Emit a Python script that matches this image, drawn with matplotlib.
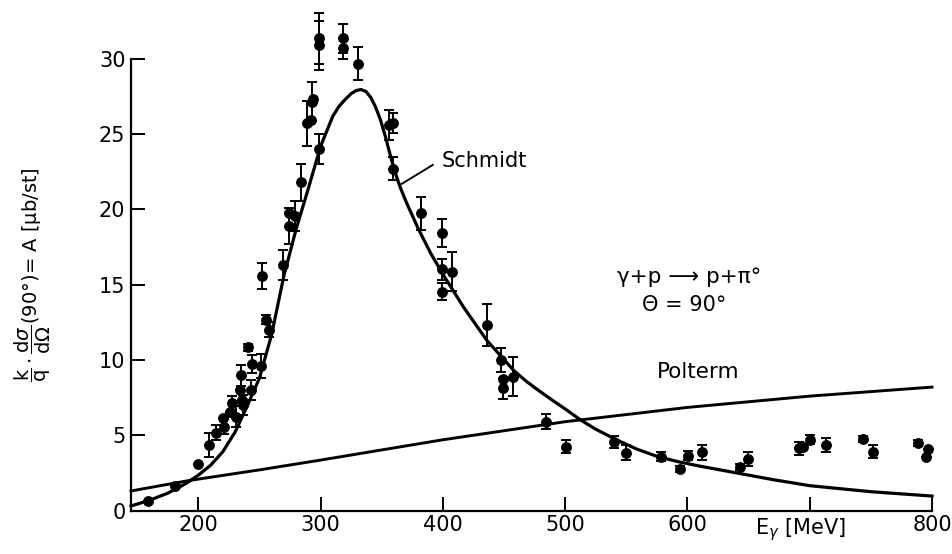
import matplotlib
matplotlib.use("Agg")
import matplotlib.pyplot as plt

plt.rcParams['font.family'] = ['DejaVu Sans']
plt.rcParams['mathtext.fontset'] = 'dejavusans'

# Measured pi0 photoproduction cross sections at 90 degrees
energy = [159, 181, 200, 209, 214.5, 220, 221.3, 225.9, 227.3, 230.8, 234.1, 235,
          235.5, 236.8, 240.4, 243.7, 243.1, 251.3, 255.4, 257.5, 252.4, 269.5,
          274.2, 274.4, 279.1, 284, 288.6, 291.9, 292.7, 293.5, 298.9, 299, 298.5,
          318.6, 318.6, 330.5, 356.2, 359, 359.4, 382.1, 399.5, 399.5, 399.5,
          407.4, 435.8, 447.3, 449.4, 449.4, 457.6, 484.3, 500.4, 540.2, 549.5,
          578.3, 593.9, 600.7, 611.6, 643, 649.7, 691.4, 694.7, 700.2, 713.3,
          743.8, 751.4, 788.7, 796.9, 795]
value = [0.65, 1.63, 3.08, 4.35, 5.17, 6.12, 5.58, 6.57, 7.12, 6.23, 8.0, 9.0,
         7.33, 7.01, 10.84, 9.76, 8.0, 9.6, 12.66, 12.0, 15.58, 16.31,
         18.9, 19.77, 19.55, 21.8, 25.74, 25.95, 27.16, 27.36, 24.0, 31.37, 30.9,
         31.37, 30.7, 29.7, 25.61, 25.74, 22.71, 19.74, 18.46, 16.03, 14.54,
         15.87, 12.33, 10.0, 8.71, 8.12, 8.9, 5.9, 4.24, 4.57, 3.85,
         3.58, 2.76, 3.64, 3.87, 2.87, 3.42, 4.13, 4.24, 4.69, 4.35,
         4.72, 3.91, 4.46, 4.07, 3.58]
error = [0, 0, 0, 0.82, 0.5, 0, 0.5, 0, 0.5, 0.7, 0, 0.7,
         0, 0.65, 0.25, 0.6, 0.65, 0.8, 0.3, 0.5, 0.85, 1.0,
         1.2, 0, 1.0, 1.25, 1.5, 0, 1.3, 0, 1.0, 1.7, 1.6,
         0.95, 0.7, 1.1, 1.0, 0.65, 0.77, 1.07, 0.93, 0.7, 0.55,
         1.3, 1.4, 0.77, 0, 0.7, 1.3, 0.5, 0.45, 0.4, 0.5,
         0.3, 0.2, 0.3, 0.5, 0.2, 0.45, 0.45, 0, 0.3, 0.45,
         0.2, 0.45, 0.2, 0, 0]

# Theoretical curves
schmidt_e = [145, 160, 175, 190, 200, 210, 220, 230, 240, 250, 260, 270, 280,
             290, 300, 310, 315, 320, 325, 329, 333, 337, 341, 345, 349, 353,
             357, 361, 365, 370, 375, 380, 390, 400, 417, 436, 458, 468, 477,
             490, 500, 512, 525, 542, 558, 575, 592, 610, 640, 670, 700, 750,
             800]
schmidt_a = [0.30, 0.68, 1.15, 1.8, 2.35, 3.0, 3.9, 5.2, 6.95, 8.8, 11.7, 15.6,
             18.7, 21.4, 24.2, 26.2, 26.85, 27.3, 27.7, 27.9, 27.97, 27.85,
             27.45, 26.8, 25.95, 24.85, 23.6, 22.45, 21.5, 20.5, 19.6, 18.7,
             17.1, 15.7, 13.5, 11.3, 9.3, 8.6, 8.05, 7.3, 6.75, 6.05, 5.4, 4.7,
             4.1, 3.6, 3.25, 2.95, 2.5, 2.05, 1.65, 1.25, 0.96]
polterm_e = [145, 193, 250, 300, 400, 500, 600, 700, 800]
polterm_a = [1.3, 2.0, 2.7, 3.35, 4.7, 5.9, 6.85, 7.6, 8.2]

x_ticks = [200, 300, 400, 500, 600, 700, 800]
x_tick_labels = ['200', '300', '400', '500', '600', '', '800']
y_ticks = [0, 5, 10, 15, 20, 25, 30]

fig = plt.figure(figsize=(9.53, 5.54), dpi=100)
ax = fig.add_axes([0.1375, 0.0785, 0.8405, 0.9101])

ax.plot(schmidt_e, schmidt_a, color='black', lw=2.3, solid_joinstyle='round',
        clip_on=False)
ax.plot(polterm_e, polterm_a, color='black', lw=2.1, solid_joinstyle='round',
        clip_on=False)
ax.errorbar(energy, value, yerr=error, fmt='o', color='black', ms=6.8,
            capsize=3.3, elinewidth=1.4, capthick=1.4, clip_on=False, zorder=3)

ax.set_xlim(145, 800)
ax.set_ylim(0, 33.5)
ax.spines['top'].set_visible(False)
ax.spines['right'].set_visible(False)
ax.spines['left'].set_bounds(0, 30)
ax.spines['left'].set_linewidth(1.6)
ax.spines['bottom'].set_linewidth(1.6)

ax.set_xticks(x_ticks)
ax.set_xticklabels(x_tick_labels)
ax.set_yticks(y_ticks)
ax.tick_params(direction='in', length=10, width=1.4, labelsize=15, pad=4)
ax.tick_params(axis='x', pad=3)

ax.text(399, 23.2, 'Schmidt', fontsize=15, ha='left', va='center')
ax.plot([391.7, 366.3], [22.96, 21.7], color='black', lw=1.4)
ax.text(575, 9.2, 'Polterm', fontsize=15.5, ha='left', va='center')
ax.text(601.6, 15.5, 'γ+p ⟶ p+π°', fontsize=15.5, ha='center', va='center')
ax.text(597.6, 13.65, 'Θ = 90°', fontsize=15, ha='center', va='center')
ax.text(692.6, -1.3, r'E$_{\gamma}$ [MeV]', fontsize=15, ha='center',
        va='center', clip_on=False)

fig.text(0.035, 0.5036,
         r'$\dfrac{\mathrm{k}}{\mathrm{q}}\cdot\dfrac{\mathrm{d}\sigma}'
         r'{\mathrm{d}\Omega}$(90°)= A [$\mathrm{\mu}$b/st]',
         rotation=90, fontsize=14, ha='center', va='center')

fig.savefig('out.png', dpi=100)
